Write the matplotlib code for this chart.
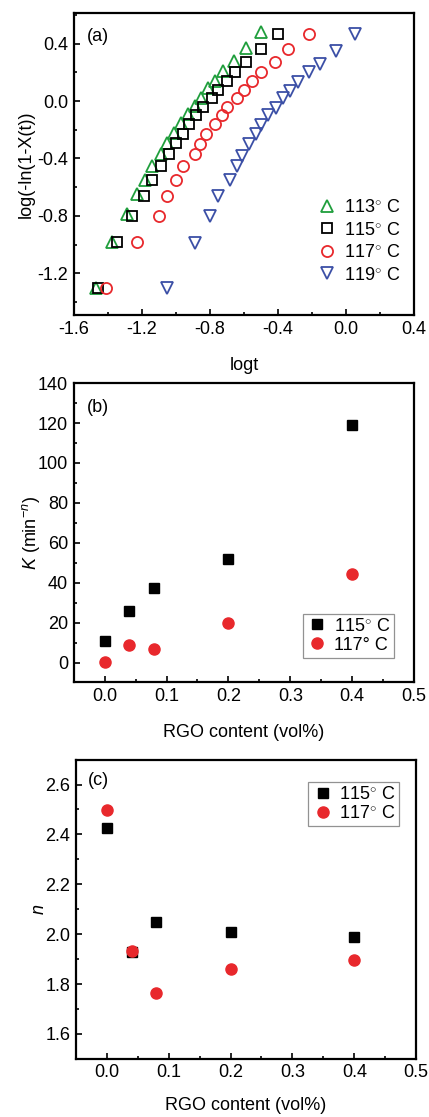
import matplotlib
matplotlib.use("Agg")
import matplotlib.pyplot as plt
from matplotlib.ticker import MultipleLocator, AutoMinorLocator

plt.rcParams["font.family"] = ["Liberation Sans", "DejaVu Sans"]
plt.rcParams["font.size"] = 13
plt.rcParams["axes.unicode_minus"] = False
plt.rcParams["mathtext.fontset"] = "custom"
plt.rcParams["mathtext.rm"] = "Liberation Sans"
plt.rcParams["mathtext.it"] = "Liberation Sans:italic"

# (a) Avrami plots: log t vs log(-ln(1-X(t)))
logt_113 = [-1.47, -1.375, -1.29, -1.23, -1.18, -1.14, -1.09, -1.05, -1.01, -0.97,
            -0.93, -0.89, -0.85, -0.81, -0.77, -0.72, -0.66, -0.59, -0.50]
logx_113 = [-1.30, -0.98, -0.79, -0.65, -0.55, -0.45, -0.37, -0.29, -0.22, -0.15,
            -0.09, -0.035, 0.02, 0.09, 0.14, 0.21, 0.28, 0.37, 0.48]
logt_115 = [-1.46, -1.345, -1.26, -1.19, -1.14, -1.09, -1.04, -1.00, -0.96, -0.92,
            -0.88, -0.84, -0.79, -0.75, -0.70, -0.65, -0.585, -0.50, -0.40]
logx_115 = [-1.30, -0.98, -0.80, -0.66, -0.55, -0.45, -0.37, -0.29, -0.23, -0.16,
            -0.10, -0.04, 0.02, 0.08, 0.14, 0.20, 0.27, 0.36, 0.47]
logt_117 = [-1.41, -1.23, -1.10, -1.05, -1.00, -0.96, -0.89, -0.86, -0.82, -0.77,
            -0.73, -0.70, -0.64, -0.60, -0.555, -0.50, -0.42, -0.34, -0.22]
logx_117 = [-1.30, -0.98, -0.80, -0.66, -0.55, -0.45, -0.37, -0.30, -0.23, -0.16,
            -0.10, -0.04, 0.02, 0.08, 0.14, 0.20, 0.27, 0.36, 0.47]
logt_119 = [-1.05, -0.89, -0.80, -0.75, -0.68, -0.64, -0.61, -0.57, -0.53, -0.50,
            -0.46, -0.41, -0.37, -0.33, -0.28, -0.22, -0.15, -0.06, 0.055]
logx_119 = [-1.30, -0.99, -0.80, -0.66, -0.55, -0.45, -0.38, -0.30, -0.23, -0.17,
            -0.10, -0.05, 0.02, 0.07, 0.13, 0.20, 0.26, 0.35, 0.47]

# (b), (c) rate constant K and Avrami exponent n vs RGO content
rgo = [0.0, 0.04, 0.08, 0.2, 0.4]
K_115 = [10.9, 25.7, 37.2, 51.7, 119.1]
K_117 = [0.3, 8.7, 7.0, 19.8, 44.5]
n_115 = [2.424, 1.927, 2.047, 2.009, 1.989]
n_117 = [2.496, 1.931, 1.763, 1.860, 1.897]

green = "#1f9e3c"
red = "#e8282c"
blue = "#3b4fa6"
deg = "$^{\\circ}$"

fig = plt.figure(figsize=(4.29, 11.17), dpi=100)
ax1 = fig.add_axes([0.172, 0.718, 0.793, 0.270])
ax2 = fig.add_axes([0.172, 0.389, 0.793, 0.268])
ax3 = fig.add_axes([0.177, 0.052, 0.793, 0.268])


def style(ax):
    for s in ax.spines.values():
        s.set_linewidth(1.6)
    ax.tick_params(which="both", direction="in", top=False, right=False,
                   labelsize=13, width=1.2, pad=4)
    ax.tick_params(which="major", length=4.5)
    ax.tick_params(which="minor", length=2.5)
    ax.xaxis.set_minor_locator(AutoMinorLocator(2))
    ax.yaxis.set_minor_locator(AutoMinorLocator(2))


leg_kw = dict(handletextpad=0.3, handlelength=1.2, borderaxespad=0)

mk = dict(linestyle="none", markerfacecolor="none", markeredgewidth=1.3, markersize=8)
ax1.plot(logt_113, logx_113, marker="^", color=green, label="113" + deg + " C", **mk)
ax1.plot(logt_115, logx_115, marker="s", color="black", label="115" + deg + " C",
         **{**mk, "markersize": 7})
ax1.plot(logt_117, logx_117, marker="o", color=red, label="117" + deg + " C", **mk)
ax1.plot(logt_119, logx_119, marker="v", color=blue, label="119" + deg + " C", **mk)
ax1.set_xlim(-1.6, 0.4)
ax1.set_ylim(-1.49, 0.61)
ax1.xaxis.set_major_locator(MultipleLocator(0.4))
ax1.yaxis.set_major_locator(MultipleLocator(0.4))
ax1.set_xlabel("logt", labelpad=14)
ax1.set_ylabel("log(-ln(1-X(t))", labelpad=2)
ax1.text(0.038, 0.95, "(a)", transform=ax1.transAxes, va="top")
ax1.legend(loc="lower right", bbox_to_anchor=(0.98, 0.08), frameon=False,
           labelspacing=0.3, **leg_kw)
style(ax1)

ax2.plot(rgo, K_115, "s", color="black", markersize=7, label="115" + deg + " C")
ax2.plot(rgo, K_117, "o", color=red, markersize=8, label="117° C")
ax2.set_xlim(-0.05, 0.5)
ax2.set_ylim(-10, 140)
ax2.xaxis.set_major_locator(MultipleLocator(0.1))
ax2.yaxis.set_major_locator(MultipleLocator(20))
ax2.set_xlabel("RGO content (vol%)", labelpad=14)
ax2.set_ylabel("$K$ (min$^{-n}$)", labelpad=-3)
ax2.text(0.038, 0.947, "(b)", transform=ax2.transAxes, va="top")
lg = ax2.legend(loc="lower right", bbox_to_anchor=(0.941, 0.083), fancybox=False,
                edgecolor="#777777", labelspacing=0.12, borderpad=0.22, **leg_kw)
lg.get_frame().set_linewidth(0.9)
style(ax2)

ax3.plot(rgo, n_115, "s", color="black", markersize=7, label="115" + deg + " C")
ax3.plot(rgo, n_117, "o", color=red, markersize=8, label="117" + deg + " C")
ax3.set_xlim(-0.05, 0.5)
ax3.set_ylim(1.5, 2.7)
ax3.xaxis.set_major_locator(MultipleLocator(0.1))
ax3.yaxis.set_major_locator(MultipleLocator(0.2))
ax3.set_xlabel("RGO content (vol%)", labelpad=11)
ax3.set_ylabel("$n$", labelpad=-2)
ax3.text(0.035, 0.96, "(c)", transform=ax3.transAxes, va="top")
lg = ax3.legend(loc="upper right", bbox_to_anchor=(0.95, 0.924), fancybox=False,
                edgecolor="#777777", labelspacing=0.12, borderpad=0.22, **leg_kw)
lg.get_frame().set_linewidth(0.9)
style(ax3)

fig.savefig("out.png", dpi=100)
